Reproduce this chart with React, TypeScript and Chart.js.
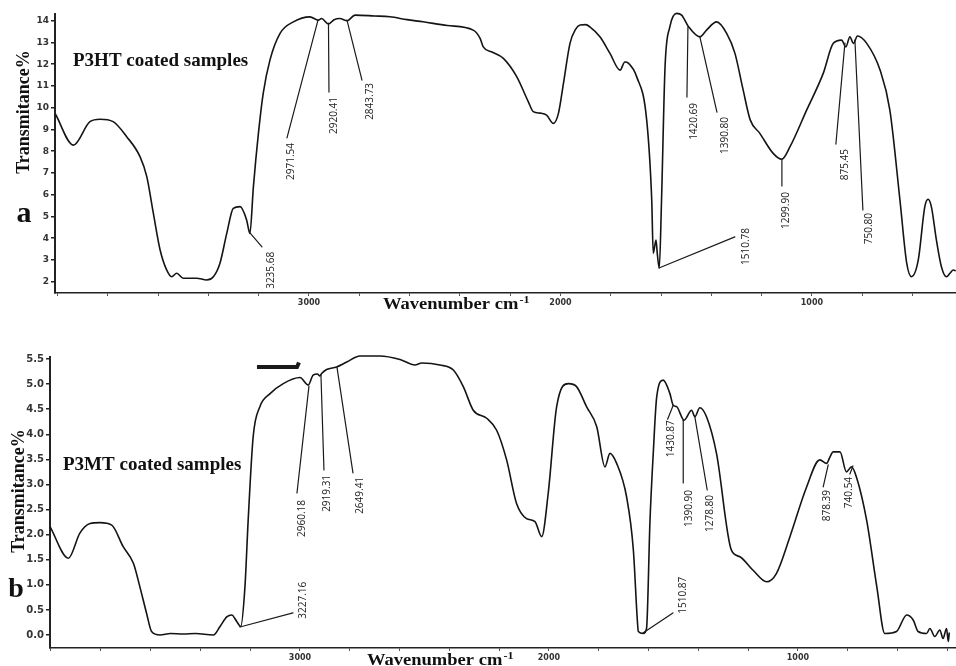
import React, { useEffect, useRef } from 'react';
import { Chart, registerables } from 'chart.js';

Chart.register(...registerables);

// ---------- Panel a: P3HT ----------
const topWavenumber = [
  4008, 3937, 3871, 3831, 3779, 3725, 3672, 3645, 3619, 3592, 3566, 3546, 3526, 3500, 3447, 3407, 3380, 3354,
  3327, 3301, 3274, 3248, 3235, 3221, 3201, 3182, 3155, 3115, 3062, 2996, 2963, 2950, 2923, 2900, 2877, 2848,
  2817, 2740, 2678, 2610, 2546, 2450, 2347, 2320, 2307, 2270, 2227, 2174, 2128, 2108, 2080, 2055, 2028, 2008,
  1988, 1962, 1940, 1922, 1900, 1883, 1843, 1803, 1763, 1744, 1730, 1697, 1657, 1637, 1631, 1620, 1615, 1607,
  1598, 1584, 1565, 1538, 1518, 1492, 1445, 1419, 1379, 1339, 1306, 1275, 1245, 1207, 1154, 1120, 1087, 1021,
  955, 915, 882, 865, 849, 835, 819, 782, 729, 690, 650, 623, 604, 577, 551, 538, 525, 505, 485, 465, 450, 438, 428,
];
const topTransmittance = [
  9.7, 8.28, 9.36, 9.47, 9.36, 8.67, 7.75, 6.83, 5.15, 3.46, 2.54, 2.23, 2.39, 2.16, 2.16, 2.08, 2.23, 2.85,
  4.22, 5.37, 5.45, 4.84, 4.22, 6.37, 8.83, 10.66, 12.2, 13.42, 13.95, 14.18, 14.03, 14.1, 13.85, 14.05, 14.1, 14.0,
  14.26, 14.22, 14.18, 14.05, 13.95, 13.78, 13.57, 13.2, 12.8, 12.55, 12.27, 11.43, 10.28, 9.82, 9.75, 9.66, 9.28, 9.74,
  11.12, 12.96, 13.6, 13.8, 13.82, 13.72, 13.26, 12.5, 11.73, 12.1, 12.05, 11.43, 9.43, 5.76, 3.31, 3.92, 3.3, 2.62,
  5.76, 11.89, 13.72, 14.34, 14.26, 13.75, 13.26, 13.57, 13.95, 13.42, 12.5, 10.9, 9.43, 8.82, 7.9, 7.63, 8.21, 9.89,
  11.58, 12.96, 13.11, 12.8, 13.26, 12.96, 13.3, 12.96, 11.73, 9.89, 5.76, 2.85, 2.23, 3.0, 5.45, 5.79, 5.45, 3.92, 2.69, 2.23, 2.4, 2.54, 2.5,
];
const topYTicks = [2, 3, 4, 5, 6, 7, 8, 9, 10, 11, 12, 13, 14];
const topPeakLabels = ['3235.68', '2971.54', '2920.41', '2843.73', '1510.78', '1420.69', '1390.80', '1299.90', '875.45', '750.80'];
const topPeakFrom = [[3234.6, 4.24], [2964.2, 14.03], [2922.5, 13.89], [2848.9, 14.03], [1608.3, 2.63], [1493, 13.71], [1445.3, 13.25], [1119.3, 7.64], [868.8, 12.97], [829, 13.11]];
const topPeakTo = [[3186.9, 3.6], [3087.5, 8.61], [2920.5, 10.72], [2789.3, 11.27], [1306.2, 4.06], [1497, 10.49], [1377.7, 9.8], [1119.3, 6.4], [904.6, 8.33], [797.2, 5.3]];
const topPeakText = [[3151.1, 3.37], [3071.6, 8.38], [2900.6, 10.49], [2757.5, 11.14], [1262.4, 4.47], [1469.2, 10.22], [1345.9, 9.57], [1103.4, 6.12], [868.8, 8.1], [773.4, 5.16]];

// ---------- Panel b: P3MT ----------
const bottomWavenumber = [
  4004, 3930, 3884, 3843, 3803, 3756, 3710, 3669, 3643, 3616, 3596, 3562, 3520, 3469, 3420, 3348, 3321, 3294,
  3274, 3254, 3238, 3221, 3208, 3188, 3161, 3120, 3067, 3000, 2967, 2947, 2930, 2920, 2913, 2893, 2853, 2812,
  2759, 2679, 2598, 2538, 2511, 2438, 2384, 2344, 2304, 2250, 2210, 2170, 2130, 2090, 2056, 2029, 2003, 1969,
  1922, 1889, 1849, 1808, 1775, 1755, 1728, 1688, 1661, 1645, 1641, 1621, 1608, 1594, 1581, 1567, 1541, 1514,
  1501, 1487, 1457, 1427, 1414, 1394, 1367, 1327, 1267, 1233, 1180, 1126, 1086, 1032, 965, 912, 885, 871, 859,
  831, 805, 785, 765, 724, 683, 651, 604, 563, 537, 517, 483, 470, 450, 430, 417, 403, 396, 392,
];
const bottomTransmittance = [
  2.16, 1.53, 2.03, 2.22, 2.24, 2.19, 1.76, 1.43, 0.96, 0.43, 0.07, 0.0, 0.03, 0.02, 0.03, 0.0, 0.17, 0.36,
  0.4, 0.27, 0.17, 0.96, 2.29, 3.95, 4.55, 4.81, 5.01, 5.13, 4.98, 5.18, 5.2, 5.16, 5.21, 5.29, 5.34, 5.44,
  5.56, 5.56, 5.49, 5.38, 5.42, 5.38, 5.28, 4.95, 4.48, 4.32, 4.08, 3.49, 2.62, 2.32, 2.26, 1.96, 2.82, 4.55,
  5.01, 4.95, 4.55, 4.15, 3.35, 3.62, 3.42, 2.75, 1.7, 0.3, 0.07, 0.03, 0.13, 2.29, 3.62, 4.75, 5.08, 4.81,
  4.58, 4.55, 4.28, 4.48, 4.35, 4.53, 4.35, 3.62, 1.69, 1.56, 1.29, 1.06, 1.23, 1.96, 2.95, 3.49, 3.42, 3.55, 3.65,
  3.65, 3.25, 3.35, 3.15, 2.29, 0.96, 0.03, 0.07, 0.4, 0.3, 0.07, 0.03, 0.13, -0.03, 0.1, -0.07, 0.13, -0.13, 0.05,
];
const bottomYTicks = [0, 0.5, 1, 1.5, 2, 2.5, 3, 3.5, 4, 4.5, 5, 5.5];
const bottomPeakLabels = ['3227.16', '2960.18', '2919.31', '2649.41', '1510.87', '1430.87', '1390.90', '1278.80', '878.39', '740.54'];
const bottomPeakFrom = [[3241, 0.16], [2963.9, 4.96], [2915.7, 5.18], [2851.4, 5.34], [1622.5, 0.04], [1500.8, 4.58], [1460.6, 4.28], [1413.7, 4.34], [878.3, 3.39], [779, 3.37]];
const bottomPeakTo = [[3028, 0.44], [3012, 2.83], [2903.6, 3.29], [2787.1, 3.23], [1502, 0.44], [1523.3, 4.3], [1460.6, 3.03], [1364.3, 2.89], [898.4, 2.95], [791, 3.21]];
const bottomPeakText = [[2988, 1.06], [2992, 2.69], [2891.6, 3.19], [2759, 3.15], [1461.8, 1.16], [1507.2, 4.28], [1437.8, 2.89], [1353.4, 2.79], [882.3, 2.89], [794, 3.15]];
const bottomMarkBar = [[3172.7, 5.34], [3012, 5.34], [3004, 5.43]];

// ---------- shared axis ----------
const xMinorTicks = [4000, 3800, 3600, 3400, 3200, 3000, 2800, 2600, 2400, 2200, 2000, 1800, 1600, 1400, 1200, 1000, 800, 600, 400];
const xTickLabels = [3000, 2000, 1000];

const SERIF = '"Liberation Serif", "Times New Roman", serif';

type Panel = {
  width: number;
  height: number;
  wn: number[];
  tr: number[];
  xMin: number;
  xMax: number;
  yMin: number;
  yMax: number;
  yTicks: number[];
  yDecimals: number;
  yFont: number;
  padTop: number;
  axisLeft: number;
  axisBottom: number;
  labels: string[];
  from: number[][];
  to: number[][];
  text: number[][];
  bar?: number[][];
  sampleText: string;
  sampleX: number;
  sampleY: number;
  letter: string;
  letterX: number;
  letterY: number;
  letterSize: number;
  yTitleX: number;
  yTitleY: number;
  xTitleX: number;
  xTitleY: number;
};

function drawTexts(chart: any, p: Panel) {
  const ctx: CanvasRenderingContext2D = chart.ctx;
  const xs = chart.scales.x;
  const ys = chart.scales.y;
  ctx.save();
  ctx.strokeStyle = '#1a1a1a';
  ctx.lineWidth = 1.2;
  ctx.lineCap = 'round';
  p.labels.forEach((lab, i) => {
    ctx.beginPath();
    ctx.moveTo(xs.getPixelForValue(p.from[i][0]), ys.getPixelForValue(p.from[i][1]));
    ctx.lineTo(xs.getPixelForValue(p.to[i][0]), ys.getPixelForValue(p.to[i][1]));
    ctx.stroke();
    ctx.save();
    ctx.translate(xs.getPixelForValue(p.text[i][0]), ys.getPixelForValue(p.text[i][1]));
    ctx.rotate(-Math.PI / 2);
    ctx.font = '10px "Open Sans", "DejaVu Sans", sans-serif';
    ctx.textAlign = 'right';
    ctx.textBaseline = 'middle';
    ctx.fillStyle = '#222';
    ctx.fillText(lab, 0, 0);
    ctx.restore();
  });
  if (p.bar) {
    ctx.lineWidth = 4;
    ctx.lineCap = 'butt';
    ctx.beginPath();
    p.bar.forEach((pt, i) => {
      const x = xs.getPixelForValue(pt[0]);
      const y = ys.getPixelForValue(pt[1]);
      if (i === 0) ctx.moveTo(x, y);
      else ctx.lineTo(x, y);
    });
    ctx.stroke();
  }

  ctx.fillStyle = '#111';
  ctx.textAlign = 'left';
  ctx.textBaseline = 'alphabetic';
  ctx.font = `bold 19px ${SERIF}`;
  ctx.fillText(p.sampleText, p.sampleX, p.sampleY);

  ctx.font = `bold ${p.letterSize}px ${SERIF}`;
  ctx.textAlign = 'center';
  ctx.fillText(p.letter, p.letterX, p.letterY);

  ctx.save();
  ctx.translate(p.yTitleX, p.yTitleY);
  ctx.rotate(-Math.PI / 2);
  ctx.font = `bold 18px ${SERIF}`;
  ctx.textAlign = 'center';
  ctx.textBaseline = 'middle';
  ctx.fillText('Transmitance%', 0, 0);
  ctx.restore();

  ctx.save();
  ctx.translate(p.xTitleX, p.xTitleY);
  ctx.scale(1.09, 1);
  ctx.font = `bold 17px ${SERIF}`;
  ctx.textAlign = 'left';
  ctx.textBaseline = 'alphabetic';
  const main = 'Wavenumber cm';
  ctx.fillText(main, 0, 0);
  const w = ctx.measureText(main).width;
  ctx.font = `bold 11px ${SERIF}`;
  ctx.fillText('-1', w + 1, -6);
  ctx.restore();

  ctx.restore();
}

function PanelChart({ p }: { p: Panel }) {
  const ref = useRef<HTMLCanvasElement | null>(null);
  useEffect(() => {
    if (!ref.current) return;
    const chart = new Chart(ref.current, {
      type: 'line',
      data: {
        datasets: [
          {
            data: p.wn.map((x, i) => ({ x, y: p.tr[i] })),
            borderColor: '#141414',
            borderWidth: 1.6,
            pointRadius: 0,
            cubicInterpolationMode: 'monotone',
            fill: false,
            clip: false as any,
            borderJoinStyle: 'round',
          },
        ],
      },
      options: {
        responsive: false,
        animation: false,
        devicePixelRatio: 1,
        events: [],
        layout: { padding: { top: p.padTop, left: 0, right: 0, bottom: 0 } },
        plugins: { legend: { display: false }, tooltip: { enabled: false }, title: { display: false } },
        scales: {
          x: {
            type: 'linear',
            reverse: true,
            min: p.xMin,
            max: p.xMax,
            afterFit: (s: any) => {
              s.height = p.height - p.axisBottom;
            },
            afterBuildTicks: (ax: any) => {
              ax.ticks = xMinorTicks.filter((v) => v >= p.xMin && v <= p.xMax).map((v) => ({ value: v }));
            },
            ticks: {
              autoSkip: false,
              maxRotation: 0,
              minRotation: 0,
              padding: 2,
              color: '#333',
              font: { family: '"DejaVu Sans", sans-serif', size: 8, weight: 'bold' },
              callback: (v: any) => (xTickLabels.includes(Number(v)) ? String(v) : ''),
            },
            grid: { drawOnChartArea: false, drawTicks: true, tickLength: 3, color: '#555' },
            border: { display: true, color: '#222', width: 1.5 },
          },
          y: {
            type: 'linear',
            min: p.yMin,
            max: p.yMax,
            afterFit: (s: any) => {
              s.width = p.axisLeft;
            },
            afterBuildTicks: (ax: any) => {
              ax.ticks = p.yTicks.map((v) => ({ value: v }));
            },
            ticks: {
              autoSkip: false,
              padding: 2,
              color: '#333',
              font: { family: '"DejaVu Sans", sans-serif', size: p.yFont, weight: 'bold' },
              callback: (v: any) => Number(v).toFixed(p.yDecimals),
            },
            grid: { drawOnChartArea: false, drawTicks: true, tickLength: 4, color: '#222', lineWidth: 1.5 },
            border: { display: true, color: '#222', width: 2, dash: [2, 1] },
          },
        },
      },
      plugins: [
        {
          id: 'overlayTexts',
          afterDraw: (c: any) => drawTexts(c, p),
        },
      ],
    } as any);
    return () => chart.destroy();
  }, [p]);
  return <canvas ref={ref} width={p.width} height={p.height} style={{ display: 'block', width: p.width, height: p.height }} />;
}

const topPanel: Panel = {
  width: 956,
  height: 320,
  wn: topWavenumber,
  tr: topTransmittance,
  xMin: 427,
  xMax: 4010,
  yMin: 1.48,
  yMax: 14.31,
  yTicks: topYTicks,
  yDecimals: 0,
  yFont: 9,
  padTop: 14,
  axisLeft: 55,
  axisBottom: 293,
  labels: topPeakLabels,
  from: topPeakFrom,
  to: topPeakTo,
  text: topPeakText,
  sampleText: 'P3HT coated samples',
  sampleX: 73,
  sampleY: 66,
  letter: 'a',
  letterX: 24,
  letterY: 222,
  letterSize: 30,
  yTitleX: 24,
  yTitleY: 112,
  xTitleX: 383,
  xTitleY: 309,
};

const bottomPanel: Panel = {
  width: 956,
  height: 346,
  wn: bottomWavenumber,
  tr: bottomTransmittance,
  xMin: 365,
  xMax: 4004,
  yMin: -0.259,
  yMax: 5.54,
  yTicks: bottomYTicks,
  yDecimals: 1,
  yFont: 10,
  padTop: 37,
  axisLeft: 50,
  axisBottom: 328,
  labels: bottomPeakLabels,
  from: bottomPeakFrom,
  to: bottomPeakTo,
  text: bottomPeakText,
  bar: bottomMarkBar,
  sampleText: 'P3MT coated samples',
  sampleX: 63,
  sampleY: 150,
  letter: 'b',
  letterX: 16,
  letterY: 277,
  letterSize: 28,
  yTitleX: 19,
  yTitleY: 171,
  xTitleX: 367,
  xTitleY: 345,
};

export default function App() {
  return (
    <div style={{ position: 'absolute', left: 0, top: 0, width: 956, height: 666, background: '#fff', overflow: 'hidden' }}>
      <PanelChart p={topPanel} />
      <PanelChart p={bottomPanel} />
    </div>
  );
}
